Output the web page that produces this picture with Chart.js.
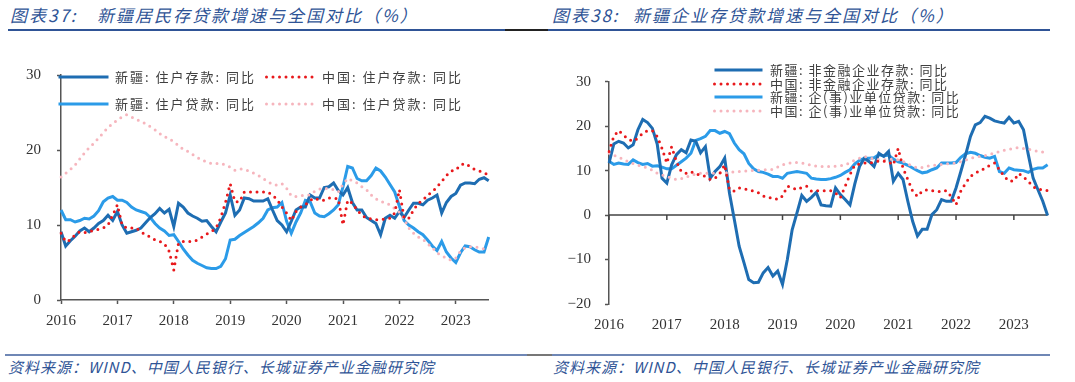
<!DOCTYPE html>
<html>
<head>
<meta charset="utf-8">
<script src="https://cdn.jsdelivr.net/npm/chart.js@4"></script>
<style>
  body { margin:0; background:#fff; width:1075px; height:382px; position:relative; overflow:hidden;
         font-family:"Noto Sans CJK SC", sans-serif; }
  .title { position:absolute; top:5px; font-size:17px; line-height:20px; letter-spacing:2px; font-style:italic;
           color:#2F5496; white-space:nowrap; }
  .rule { position:absolute; height:2px; }
  .src { position:absolute; top:358px; font-size:15px; line-height:18px; letter-spacing:1px; font-style:italic;
         color:#2F5496; white-space:nowrap; }
  .box { position:absolute; top:0; height:340px; }
  .leg { position:absolute; color:#404040; white-space:nowrap; line-height:16px; }
  .legline { position:absolute; height:6px; }
  .legline svg { display:block; }
</style>
</head>
<body>
<div class="title" style="left:10px">图表37:</div>
<div class="title" style="left:97px">新疆居民存贷款增速与全国对比（%）</div>
<div class="title" style="left:552px">图表38:</div>
<div class="title" style="left:633px">新疆企业存贷款增速与全国对比（%）</div>
<div class="rule" style="top:29px;left:8px;width:1042px;background:#2F5496"></div>
<div class="rule" style="top:29px;left:505px;width:43px;background:#222"></div>

<div class="box" style="left:0;width:540px"><canvas id="left"></canvas></div>
<div class="box" style="left:540px;width:535px"><canvas id="right"></canvas></div>

<div class="rule" style="top:354px;left:5px;width:1045px;background:#6F87B5"></div>
<div class="rule" style="top:354px;left:527px;width:25px;background:#777"></div>
<div class="src" style="left:8px">资料来源：WIND、中国人民银行、长城证券产业金融研究院</div>
<div class="src" style="left:553px">资料来源：WIND、中国人民银行、长城证券产业金融研究院</div>

<script>
// months Jan 2016 .. Aug 2023
const years = ['2016', '2017', '2018', '2019', '2020', '2021', '2022', '2023'];
const lastMonth = 8;
const months = [];
years.forEach(y => {
    for (let m = 1; m <= 12; m++) {
        if (y === years[years.length - 1] && m > lastMonth) break;
        months.push(y + '-' + String(m).padStart(2, '0'));
    }
});

// 图表37: 居民存贷款 同比 (%)
const xjHouseDeposit = [
    9.1, 7.2, 7.9, 8.5, 9.2, 9.6, 9.1, 9.6, 10.2, 10.6, 11.3, 10.6,
    11.8, 10.0, 8.9, 9.1, 9.3, 9.6, 10.3, 11.0, 11.5, 12.2, 11.6, 12.1,
    9.8, 12.9, 12.4, 11.6, 11.2, 10.9, 10.5, 10.6, 9.8, 9.1, 10.4, 11.6,
    14.0, 11.3, 12.0, 13.6, 13.5, 13.2, 13.2, 13.2, 13.5, 12.0, 10.6, 10.0,
    9.1, 10.5, 12.0, 12.4, 12.4, 14.0, 13.6, 13.6, 15.0, 15.1, 15.6, 14.6,
    14.0, 15.0, 13.0, 12.0, 12.0, 11.0, 10.6, 10.2, 8.7, 10.9, 11.3, 10.9,
    11.8, 11.0, 12.0, 12.9, 12.9, 12.7, 13.3, 13.6, 14.0, 11.6, 13.0, 13.8,
    14.2, 15.3, 15.6, 15.6, 15.5, 16.1, 16.3, 15.9
];
const cnHouseDeposit = [
    8.9, 7.8, 8.0, 8.7, 9.1, 9.0, 9.1, 9.3, 9.4, 9.6, 10.0, 11.3,
    12.7, 10.0, 9.6, 9.6, 9.6, 9.1, 8.7, 8.4, 8.0, 7.8, 7.5, 6.5,
    4.0, 7.6, 7.8, 7.8, 7.8, 8.0, 8.4, 8.8, 9.1, 9.6, 11.0, 13.0,
    15.5, 13.1, 13.1, 14.4, 14.4, 14.4, 14.4, 14.4, 14.4, 14.0, 13.4, 12.4,
    11.6, 10.6, 11.8, 12.4, 12.7, 13.3, 13.6, 13.3, 13.3, 13.6, 13.6, 13.5,
    10.0, 13.3, 12.9, 12.0, 11.3, 10.9, 10.8, 10.7, 10.7, 10.8, 10.9, 11.6,
    14.7, 10.9, 10.9, 12.0, 12.9, 13.3, 14.0, 14.4, 15.1, 15.8, 16.6, 17.2,
    17.3, 18.0, 18.2, 17.8, 17.4, 17.2, 17.0, 16.6
];
const xjHouseLoan = [
    12.0, 10.7, 10.7, 10.4, 10.6, 10.9, 10.8, 11.2, 11.9, 13.1, 13.6, 13.8,
    13.3, 13.3, 13.0, 12.4, 12.0, 11.8, 11.6, 11.0, 10.2, 9.6, 9.2, 8.6,
    8.7, 7.8, 6.8, 6.0, 5.3, 4.9, 4.6, 4.3, 4.2, 4.2, 4.5, 5.5,
    8.0, 8.1, 8.6, 9.0, 9.4, 9.8, 10.3, 10.9, 12.0, 12.3, 12.4, 13.0,
    10.5, 8.9, 10.4, 11.6, 13.3, 13.1, 11.6, 11.2, 11.1, 11.5, 12.0, 12.7,
    15.1, 17.8, 17.6, 16.2, 15.9, 15.9, 16.6, 17.6, 17.2, 16.4, 15.4, 14.4,
    12.5, 10.6, 10.0, 9.6, 9.1, 8.7, 8.0, 7.2, 6.6, 7.8, 6.4, 5.6,
    5.0, 6.3, 7.2, 7.1, 6.7, 6.4, 6.4, 8.4
];
const cnHouseLoan = [
    16.4, 16.9, 17.4, 18.0, 18.8, 19.6, 20.3, 20.9, 21.6, 22.3, 23.0, 23.5,
    24.0, 24.4, 24.7, 24.4, 24.1, 23.8, 23.5, 23.1, 22.7, 22.2, 21.8, 21.5,
    21.1, 20.6, 20.1, 19.8, 19.4, 19.0, 18.7, 18.4, 18.2, 18.2, 18.2, 18.0,
    17.7, 17.3, 17.5, 17.4, 17.2, 16.9, 16.6, 16.2, 15.8, 15.4, 15.3, 15.5,
    14.9, 13.9, 13.8, 13.9, 14.0, 14.0, 14.5, 14.8, 14.9, 14.8, 14.7, 14.4,
    15.4, 16.2, 15.9, 15.6, 15.1, 14.7, 14.0, 13.5, 13.2, 12.9, 12.7, 12.2,
    11.7, 10.8, 9.6, 8.9, 8.4, 8.1, 7.5, 7.0, 6.3, 5.9, 5.6, 5.3,
    5.6, 6.5, 7.0, 7.1, 7.1, 7.0, 6.8, 6.7
];

// 图表38: 企业存贷款 同比 (%)
const xjCorpDeposit = [
    11.7, 16.0, 16.6, 16.2, 15.1, 15.8, 19.2, 21.5, 20.8, 19.5, 16.0, 8.3,
    7.2, 11.3, 13.6, 14.7, 14.0, 16.9, 16.6, 14.0, 15.4, 8.3, 9.8, 10.9,
    12.8, 4.9, -1.0, -7.0, -10.7, -14.5, -15.2, -15.1, -13.0, -11.8, -13.7, -12.6,
    -15.6, -10.0, -3.3, 0.5, 4.4, 3.1, 4.0, 5.1, 2.3, 2.1, 2.0, 6.1,
    4.6, 3.5, 2.3, 7.0, 11.0, 12.8, 12.0, 10.9, 13.9, 13.2, 14.3, 7.6,
    9.4, 8.0, 3.1, -1.4, -4.7, -3.2, -3.2, 0.1, 1.2, 3.5, 3.1, 3.1,
    6.1, 9.8, 13.6, 17.7, 20.3, 20.8, 22.2, 21.8, 21.2, 20.9, 20.7, 22.0,
    20.7, 21.1, 19.2, 13.6, 8.3, 5.7, 3.1, -0.1
];
const cnCorpDeposit = [
    14.3, 17.7, 19.0, 18.0, 17.0, 16.6, 17.3, 18.4, 19.0, 19.0, 17.7, 15.0,
    11.7, 15.4, 12.0, 9.8, 9.4, 9.8, 9.2, 9.1, 8.7, 8.0, 8.3, 9.4,
    11.3, 5.7, 5.4, 6.1, 5.9, 5.7, 5.4, 5.0, 4.3, 3.9, 3.9, 3.5,
    4.3, 6.5, 6.1, 5.7, 6.2, 6.5, 5.4, 5.5, 5.5, 5.5, 5.5, 5.0,
    3.9, 6.5, 9.1, 11.3, 11.5, 11.7, 11.7, 11.9, 12.2, 12.1, 12.0, 11.3,
    15.0, 10.6, 8.0, 5.4, 4.2, 5.4, 5.7, 5.5, 5.4, 5.2, 5.5, 4.2,
    2.3, 5.4, 7.2, 8.7, 9.5, 9.9, 10.6, 11.2, 11.7, 10.2, 8.7, 7.6,
    7.7, 9.4, 8.6, 7.6, 6.4, 5.8, 5.7, 5.5
];
const xjCorpLoan = [
    12.1, 11.4, 11.7, 11.5, 11.4, 12.4, 11.8, 11.4, 11.6, 11.0, 11.1, 10.8,
    10.4, 10.4, 11.2, 12.0, 12.8, 13.9, 16.8, 17.2, 17.7, 19.0, 19.0, 18.4,
    18.8, 18.3, 16.2, 14.7, 13.8, 11.6, 10.4, 9.8, 9.6, 9.2, 8.7, 8.7,
    8.3, 9.4, 9.6, 9.8, 9.6, 9.4, 8.3, 8.1, 8.0, 8.0, 8.2, 8.5,
    8.9, 9.6, 10.2, 11.5, 12.3, 12.8, 12.8, 12.9, 13.6, 13.3, 13.5, 12.6,
    12.0, 11.7, 11.2, 10.6, 10.0, 9.5, 9.7, 10.2, 10.6, 11.7, 11.7, 11.7,
    11.8, 13.0, 13.8, 14.1, 13.9, 13.4, 13.0, 12.8, 13.2, 9.8, 9.4, 10.6,
    10.2, 10.1, 10.0, 9.6, 10.3, 10.6, 10.6, 11.3
];
const cnCorpLoan = [
    13.9, 13.5, 13.0, 12.5, 12.0, 11.6, 11.2, 10.9, 10.6, 10.1, 9.4, 9.0,
    8.7, 8.3, 8.0, 8.2, 8.5, 9.0, 9.2, 9.4, 9.4, 9.4, 9.4, 9.4,
    9.5, 9.6, 9.7, 9.8, 9.9, 10.0, 10.0, 10.1, 10.2, 10.2, 10.3, 10.8,
    11.3, 11.6, 11.8, 11.8, 11.7, 11.5, 11.2, 11.0, 10.9, 10.9, 10.9, 11.0,
    11.1, 11.3, 11.8, 12.4, 12.8, 13.2, 12.9, 12.6, 12.5, 12.4, 12.5, 12.6,
    12.4, 12.1, 11.5, 11.0, 10.6, 10.7, 11.0, 11.1, 11.3, 11.4, 11.5, 11.6,
    11.7, 12.0, 12.4, 12.8, 13.0, 13.2, 13.4, 13.6, 14.0, 14.3, 14.6, 14.8,
    15.0, 15.2, 15.0, 14.8, 14.6, 14.3, 14.2, 14.1
];

const leftTicks = [0, 10, 20, 30];
const rightTicks = [-20, -10, 0, 10, 20, 30];

const DARK = '#1E6DB2', LIGHT = '#2B9BE8', RED = '#E8191C', PINK = '#F6B5BD';
const tickFont = { family: 'Liberation Serif', size: 15 };

function solid(label, data, color) {
    return { label, data, borderColor: color, borderWidth: 3, pointRadius: 0, tension: 0, order: 1 };
}
function dotted(label, data, color) {
    return { label, data, borderColor: color, borderWidth: 3, borderDash: [0, 6.5], borderCapStyle: 'round',
             pointRadius: 0, tension: 0, order: 0 };
}

function yearTick(value) {
    const lab = this.getLabelForValue(value);
    return lab.endsWith('-01') ? lab.slice(0, 4) : null;
}

// axis line at y = 0 with year ticks (图表38)
const zeroAxis = {
    id: 'zeroAxis',
    beforeDatasetsDraw(chart) {
        const { ctx, chartArea, scales } = chart;
        const y0 = scales.y.getPixelForValue(0);
        ctx.save();
        ctx.strokeStyle = '#444';
        ctx.lineWidth = 1.5;
        ctx.beginPath();
        ctx.moveTo(chartArea.left, y0);
        ctx.lineTo(chartArea.right, y0);
        months.forEach((m, i) => {
            if (m.endsWith('-01')) {
                const x = scales.x.getPixelForValue(i);
                ctx.moveTo(x, y0);
                ctx.lineTo(x, y0 + 5);
            }
        });
        ctx.stroke();
        ctx.restore();
    }
};

function makeChart(id, datasets, yTicks, opts) {
    const canvas = document.getElementById(id);
    canvas.width = opts.w; canvas.height = 340;
    return new Chart(canvas, {
        type: 'line',
        data: { labels: months, datasets },
        options: {
            responsive: false,
            animation: false,
            layout: { padding: opts.padding },
            plugins: { legend: { display: false }, tooltip: { enabled: false } },
            scales: {
                x: {
                    offset: false,
                    border: { display: opts.xBorder, color: '#555', width: 1.5 },
                    grid: { drawOnChartArea: false, drawTicks: opts.xBorder, tickLength: 4, tickColor: '#555', tickWidth: 1.5 },
                    ticks: { autoSkip: false, maxRotation: 0, padding: opts.xPad, color: '#333', font: tickFont, callback: yearTick },
                    afterFit: s => { s.height = opts.xH; }
                },
                y: {
                    min: yTicks[0], max: yTicks[yTicks.length - 1],
                    afterBuildTicks: s => { s.ticks = yTicks.map(v => ({ value: v })); },
                    border: { color: '#555', width: 1.5 },
                    grid: { drawOnChartArea: false, tickLength: 4, tickColor: '#555', tickWidth: 1.5 },
                    ticks: { padding: opts.yPad, color: '#333', font: tickFont,
                             callback: v => (v < 0 ? '\u2212' + Math.abs(v) : String(v)) },
                    afterFit: s => { s.width = opts.yW; }
                }
            }
        },
        plugins: opts.plugins || []
    });
}

makeChart('left', [
    solid('新疆: 住户存款: 同比', xjHouseDeposit, DARK),
    dotted('中国: 住户存款: 同比', cnHouseDeposit, RED),
    solid('新疆: 住户贷款: 同比', xjHouseLoan, LIGHT),
    dotted('中国: 住户贷款: 同比', cnHouseLoan, PINK)
], leftTicks, { w: 540, padding: { left: 0, top: 75, right: 51.3, bottom: 0 }, xH: 40, yW: 61,
                xBorder: true, xPad: 8, yPad: 16 });

const rightChart = makeChart('right', [
    solid('新疆: 非金融企业存款: 同比', xjCorpDeposit, DARK),
    dotted('中国: 非金融企业存款: 同比', cnCorpDeposit, RED),
    solid('新疆: 企(事)业单位贷款: 同比', xjCorpLoan, LIGHT),
    dotted('中国: 企(事)业单位贷款: 同比', cnCorpLoan, PINK)
], rightTicks, { w: 535, padding: { left: 0, top: 81.7, right: 27.4, bottom: 0 }, xH: 36, yW: 69,
                 xBorder: false, xPad: 12, yPad: 14, plugins: [zeroAxis] });

// legends
function legendItem(x, y, len, textX, text, color, isDotted, fontSize, spacing) {
    const line = document.createElement('div');
    line.className = 'legline';
    line.style.left = x + 'px';
    line.style.top = (y - 3) + 'px';
    line.style.width = len + 'px';
    line.innerHTML = `<svg width="${len}" height="6"><line x1="1.5" y1="3" x2="${len - 1.5}" y2="3" stroke="${color}"
        stroke-width="3" ${isDotted ? 'stroke-dasharray="0 6.5" stroke-linecap="round"' : ''}/></svg>`;
    document.body.appendChild(line);
    const t = document.createElement('div');
    t.className = 'leg';
    t.style.left = textX + 'px';
    t.style.top = (y - 8) + 'px';
    t.style.fontSize = fontSize + 'px';
    t.style.letterSpacing = spacing + 'px';
    t.textContent = text;
    document.body.appendChild(t);
}
legendItem(57, 77, 53, 115, '新疆: 住户存款: 同比', DARK, false, 13, 2);
legendItem(265, 77, 53, 322, '中国: 住户存款: 同比', RED, true, 13, 2);
legendItem(57, 104, 53, 115, '新疆: 住户贷款: 同比', LIGHT, false, 13, 2);
legendItem(265, 104, 53, 322, '中国: 住户贷款: 同比', PINK, true, 13, 2);

rightChart.data.datasets.forEach((ds, i) => {
    legendItem(713, 70 + i * 13.5, 51, 770, ds.label, ds.borderColor, !!ds.borderDash, 13, 1.5);
});
</script>
</body>
</html>
